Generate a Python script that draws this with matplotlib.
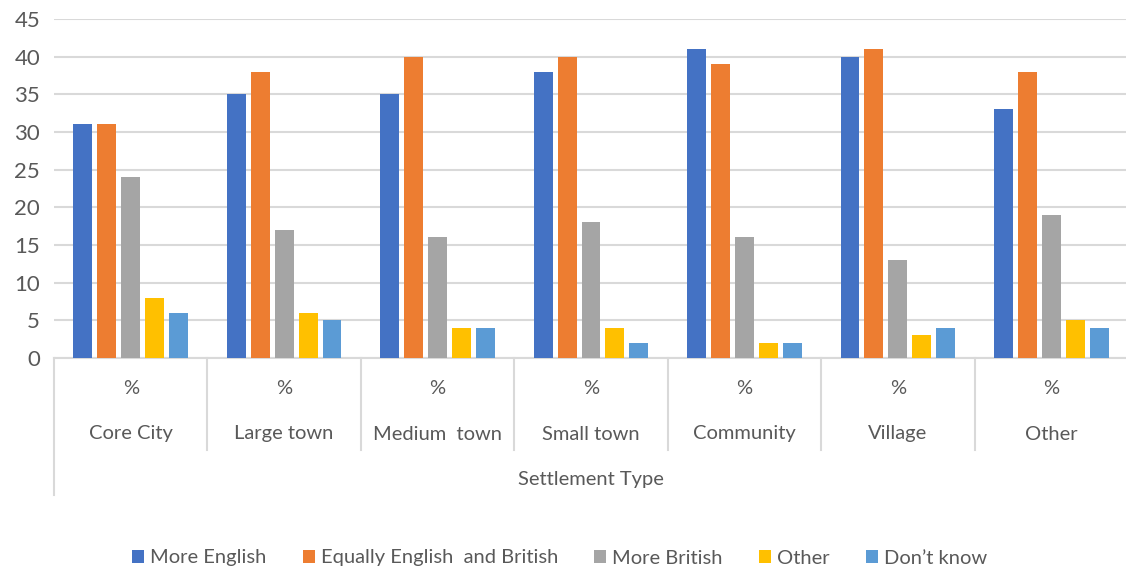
import numpy as np
import matplotlib
matplotlib.use("Agg")
import matplotlib.pyplot as plt

# Data
settlements = ["Core City", "Large town", "Medium  town", "Small town", "Community", "Village", "Other"]
more_english = [31, 35, 35, 38, 41, 40, 33]
equally = [31, 38, 40, 40, 39, 41, 38]
more_british = [24, 17, 16, 18, 16, 13, 19]
other = [8, 6, 4, 4, 2, 3, 5]
dont_know = [6, 5, 4, 2, 2, 4, 4]

series_names = ["More English", "Equally English  and British", "More British", "Other", "Don\u2019t know"]
series = [more_english, equally, more_british, other, dont_know]
colors = ["#4472C4", "#ED7D31", "#A5A5A5", "#FFC000", "#5B9BD5"]

plt.rcParams['font.family'] = ['Lato', 'DejaVu Sans']
txt = "#595959"
grid_c = "#D9D9D9"

W, H = 1126, 572
fig = plt.figure(figsize=(W / 100, H / 100), dpi=100)
left, right, top, bottom = 54, 1128, 19, 358
ax = fig.add_axes([left / W, 1 - bottom / H, (right - left) / W, (bottom - top) / H])

x = np.arange(len(settlements))
slot = 0.156
bw = 0.123
for i, (name, vals) in enumerate(zip(series_names, series)):
    ax.bar(x + (i - 2) * slot, vals, bw, color=colors[i], label=name, zorder=3)

ax.set_xlim(-0.5, len(settlements) - 0.5)
ax.set_ylim(0, 45)
ax.set_yticks(np.arange(0, 46, 5))
ax.yaxis.grid(True, color=grid_c, linewidth=1.5, zorder=0)
ax.tick_params(axis='y', length=0, labelsize=16, labelcolor=txt, pad=10)
ax.tick_params(axis='x', length=0, labelbottom=False)
for s in ["top", "right", "left"]:
    ax.spines[s].set_visible(False)
ax.spines["bottom"].set_color(grid_c)
ax.spines["bottom"].set_linewidth(1.5)

# multi-level category axis
tr = ax.get_xaxis_transform()
sep_depth = -(450 - bottom) / (bottom - top)
outer_depth = -(495 - bottom) / (bottom - top)
ax.plot([-0.5, -0.5], [0, outer_depth], transform=tr, color=grid_c, lw=1.5, clip_on=False)
for b in x[:-1] + 0.5:
    ax.plot([b, b], [0, sep_depth], transform=tr, color=grid_c, lw=1.5, clip_on=False)
for xi, name in zip(x, settlements):
    ax.text(xi, -(389 - bottom) / (bottom - top), "%", transform=tr, ha="center", va="center",
            fontsize=14.5, color=txt)
    ax.text(xi, -(434 - bottom) / (bottom - top), name, transform=tr, ha="center", va="center",
            fontsize=14.5, color=txt)
ax.text(0.5, -(479 - bottom) / (bottom - top), "Settlement Type", transform=ax.transAxes,
        ha="center", va="center", fontsize=14.5, color=txt)

fig.legend(loc="center", bbox_to_anchor=(0.497, 1 - 558 / H), ncol=5, frameon=False,
           fontsize=14.5, labelcolor=txt, handlelength=0.6, handleheight=0.6,
           handletextpad=0.3, columnspacing=1.8)

fig.savefig("out.png", dpi=100)
